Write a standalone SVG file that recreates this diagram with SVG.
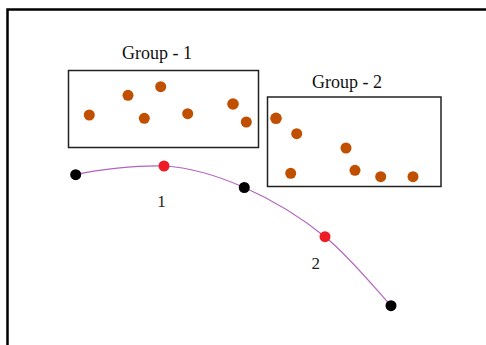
<svg xmlns="http://www.w3.org/2000/svg" width="486" height="345" viewBox="0 0 486 345">
<style>
.frame{fill:none;stroke:#000;stroke-width:2.5}
.box{fill:#fff;stroke:#222;stroke-width:1.5}
.lbl{font-family:"Liberation Serif","Times New Roman",serif;font-size:18px;fill:#111;text-anchor:middle}
.num{font-family:"Liberation Serif","Times New Roman",serif;font-size:17px;fill:#222;text-anchor:middle}
.pt{fill:#c04f00}
.blk{fill:#000}
.red{fill:#ee1c24}
.curve{fill:none;stroke:#b464c0;stroke-width:1.2}
</style>
<rect width="486" height="345" fill="#fff"/>
<path class="frame" d="M7.5,346 V9.5 H487"/>
<g id="group1">
<rect class="box" x="68.5" y="70.5" width="190" height="77"/>
<text class="lbl" x="157" y="59">Group - 1</text>
<circle class="pt" cx="89.3" cy="115" r="5.5"/>
<circle class="pt" cx="128" cy="95.3" r="5.5"/>
<circle class="pt" cx="160.7" cy="86.7" r="5.5"/>
<circle class="pt" cx="144.3" cy="118.3" r="5.5"/>
<circle class="pt" cx="187.7" cy="113.7" r="5.5"/>
<circle class="pt" cx="233" cy="104" r="5.8"/>
<circle class="pt" cx="246.3" cy="122" r="5.5"/>
</g>
<g id="group2">
<rect class="box" x="267.5" y="97" width="173.5" height="89.5"/>
<text class="lbl" x="347" y="88">Group - 2</text>
<circle class="pt" cx="276" cy="118.3" r="5.8"/>
<circle class="pt" cx="296.7" cy="133.7" r="5.5"/>
<circle class="pt" cx="346" cy="148" r="5.5"/>
<circle class="pt" cx="290.7" cy="173.3" r="5.5"/>
<circle class="pt" cx="355" cy="170.3" r="5.5"/>
<circle class="pt" cx="380.7" cy="176.7" r="5.5"/>
<circle class="pt" cx="413" cy="176.7" r="5.5"/>
</g>
<g id="connectors">
<path class="curve" d="M75.7,174.7 C95,170 138,165 164,166 C192.1,167.5 217.5,175.7 244.3,187.5 C271.1,199.3 300.5,217 325,236.7 C349.5,256.4 380,294.2 391,305.7"/>
</g>
<g id="p0"><circle class="blk" cx="75.7" cy="174.7" r="5.5"/></g>
<g id="m1"><circle class="red" cx="164" cy="166" r="5.5"/><text class="num" x="161.5" y="206.5">1</text></g>
<g id="p1"><circle class="blk" cx="244.3" cy="187.5" r="5.5"/></g>
<g id="m2"><circle class="red" cx="325" cy="236.7" r="5.5"/><text class="num" x="315.7" y="269">2</text></g>
<g id="p2"><circle class="blk" cx="391" cy="305.7" r="5.5"/></g>
</svg>
